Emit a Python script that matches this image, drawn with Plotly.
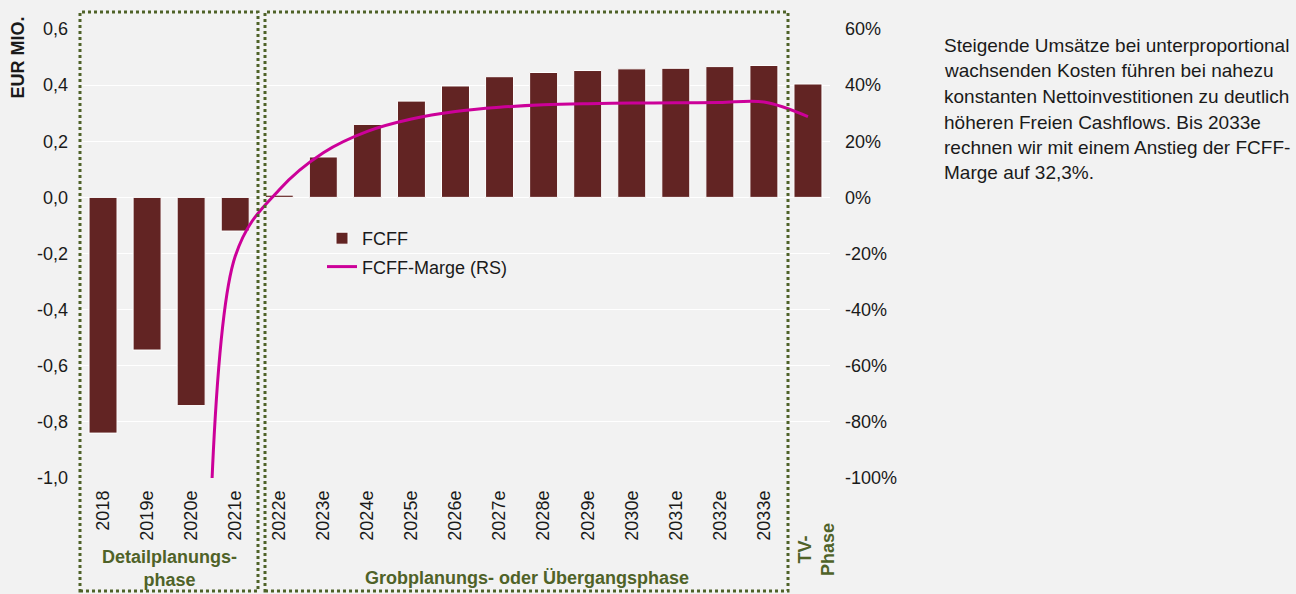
import plotly.graph_objects as go

# ---------------- data ----------------
categories = ["2018", "2019e", "2020e", "2021e", "2022e", "2023e", "2024e", "2025e",
              "2026e", "2027e", "2028e", "2029e", "2030e", "2031e", "2032e", "2033e", "TV"]
tick_labels = ["2018", "2019e", "2020e", "2021e", "2022e", "2023e", "2024e", "2025e",
               "2026e", "2027e", "2028e", "2029e", "2030e", "2031e", "2032e", "2033e", ""]
fcff = [-0.84, -0.544, -0.742, -0.12, 0.008, 0.144, 0.26, 0.343,
        0.397, 0.43, 0.445, 0.452, 0.458, 0.46, 0.466, 0.47, 0.404]          # EUR Mio.
fcff_marge = [None, -150, -280, -21, 2.7, 15.9, 23.5, 27.9,
              30.6, 32.1, 33.0, 33.4, 33.6, 33.7, 33.8, 34.0, 28.8]           # %
left_ticks = [-1.0, -0.8, -0.6, -0.4, -0.2, 0.0, 0.2, 0.4, 0.6]
left_tick_labels = ["-1,0", "-0,8", "-0,6", "-0,4", "-0,2", "0,0", "0,2", "0,4", "0,6"]
right_ticks = [-100, -80, -60, -40, -20, 0, 20, 40, 60]
right_tick_labels = ["-100%", "-80%", "-60%", "-40%", "-20%", "0%", "20%", "40%", "60%"]
phase_labels = ["Detailplanungs-<br>phase", "Grobplanungs- oder Übergangsphase", "TV-<br>Phase"]
side_text = ["Steigende Umsätze bei unterproportional",
             "wachsenden Kosten führen bei nahezu",
             "konstanten Nettoinvestitionen zu deutlich",
             "höheren Freien Cashflows. Bis 2033e",
             "rechnen wir mit einem Anstieg der FCFF-",
             "Marge auf 32,3%."]

# ---------------- style ----------------
FONT = "Liberation Sans, Arial, sans-serif"
BG = "#f2f2f2"
BAR = "#622423"
LINE = "#cc0099"
GREEN = "#4f6228"
TXT = "#1a1a1a"

W, H = 1296, 594
L, R, T, B = 81, 830, 29, 478


def px(xp):
    return (xp - L) / (R - L)


def py(yp):
    return (B - yp) / (B - T)


fig = go.Figure()
fig.add_trace(go.Bar(
    x=categories, y=fcff, name="FCFF",
    marker=dict(color=BAR, line=dict(color="white", width=1)),
    legendgroup="a",
))
fig.add_trace(go.Scatter(
    x=categories, y=fcff_marge, name="FCFF-Marge (RS)", yaxis="y2",
    mode="lines", line=dict(color=LINE, width=3, shape="spline", smoothing=1.0),
    legendgroup="b",
))

shapes = []
for x0, x1 in [(80, 258), (265, 788)]:
    shapes.append(dict(type="rect", xref="paper", yref="paper",
                       x0=px(x0), x1=px(x1), y0=py(591), y1=py(12),
                       line=dict(color=GREEN, width=3, dash="3px,3px"),
                       fillcolor="rgba(0,0,0,0)", layer="above"))

annotations = [
    dict(text="<b>EUR MIO.</b>", xref="paper", yref="paper", x=px(18), y=py(57.5),
         textangle=-90, showarrow=False, font=dict(size=18, color=TXT, family=FONT),
         xanchor="center", yanchor="middle"),
    dict(text="<b>" + phase_labels[0] + "</b>", xref="paper", yref="paper",
         x=px(169.5), y=py(568), showarrow=False,
         font=dict(size=18, color=GREEN, family=FONT), xanchor="center", yanchor="middle"),
    dict(text="<b>" + phase_labels[1] + "</b>", xref="paper", yref="paper",
         x=px(526.5), y=py(578), showarrow=False,
         font=dict(size=18, color=GREEN, family=FONT), xanchor="center", yanchor="middle"),
    dict(text="<b>" + phase_labels[2] + "</b>", xref="paper", yref="paper",
         x=px(816), y=py(550), showarrow=False, textangle=-90,
         font=dict(size=18, color=GREEN, family=FONT), xanchor="center", yanchor="middle"),
]
line_y = [45, 70.5, 96, 122, 147.5, 173]
for t, yy in zip(side_text, line_y):
    annotations.append(dict(text=t, xref="paper", yref="paper", x=px(942), y=py(yy),
                            showarrow=False, xanchor="left", yanchor="middle",
                            font=dict(size=19, color=TXT, family=FONT)))

fig.update_layout(
    width=W, height=H,
    margin=dict(l=L, r=W - R, t=T, b=H - B, pad=0),
    paper_bgcolor=BG, plot_bgcolor=BG,
    font=dict(family=FONT, size=18, color=TXT),
    separators=",.",
    bargap=0.365,
    showlegend=True,
    legend=dict(x=px(322), y=py(220), xanchor="left", yanchor="top",
                bgcolor="rgba(0,0,0,0)", font=dict(size=18, color=TXT, family=FONT),
                traceorder="grouped", tracegroupgap=2),
    xaxis=dict(type="category", categoryorder="array", categoryarray=categories,
               tickmode="array", tickvals=categories, ticktext=tick_labels,
               tickangle=-90, showgrid=False, zeroline=False, showline=False,
               ticks="", ticklabelstandoff=8, range=[-0.5, len(categories) - 0.5],
               tickfont=dict(size=18, color=TXT, family=FONT)),
    yaxis=dict(range=[-1.0, 0.6], tickmode="array", tickvals=left_ticks,
               ticktext=left_tick_labels, showgrid=True, gridcolor="white", gridwidth=1,
               zeroline=False, showline=False, ticks="", ticklabelstandoff=12,
               tickfont=dict(size=18, color=TXT, family=FONT)),
    yaxis2=dict(range=[-100, 60], overlaying="y", side="right", tickmode="array",
                tickvals=right_ticks, ticktext=right_tick_labels, showgrid=False,
                zeroline=False, showline=False, ticks="", ticklabelstandoff=14,
                tickfont=dict(size=18, color=TXT, family=FONT)),
    shapes=shapes,
    annotations=annotations,
)

fig.write_html(
    "out.html",
    config={"displayModeBar": False},
    post_script="document.body.style.margin='0';document.body.style.overflow='hidden';"
                "document.body.style.background='#f2f2f2';",
)
